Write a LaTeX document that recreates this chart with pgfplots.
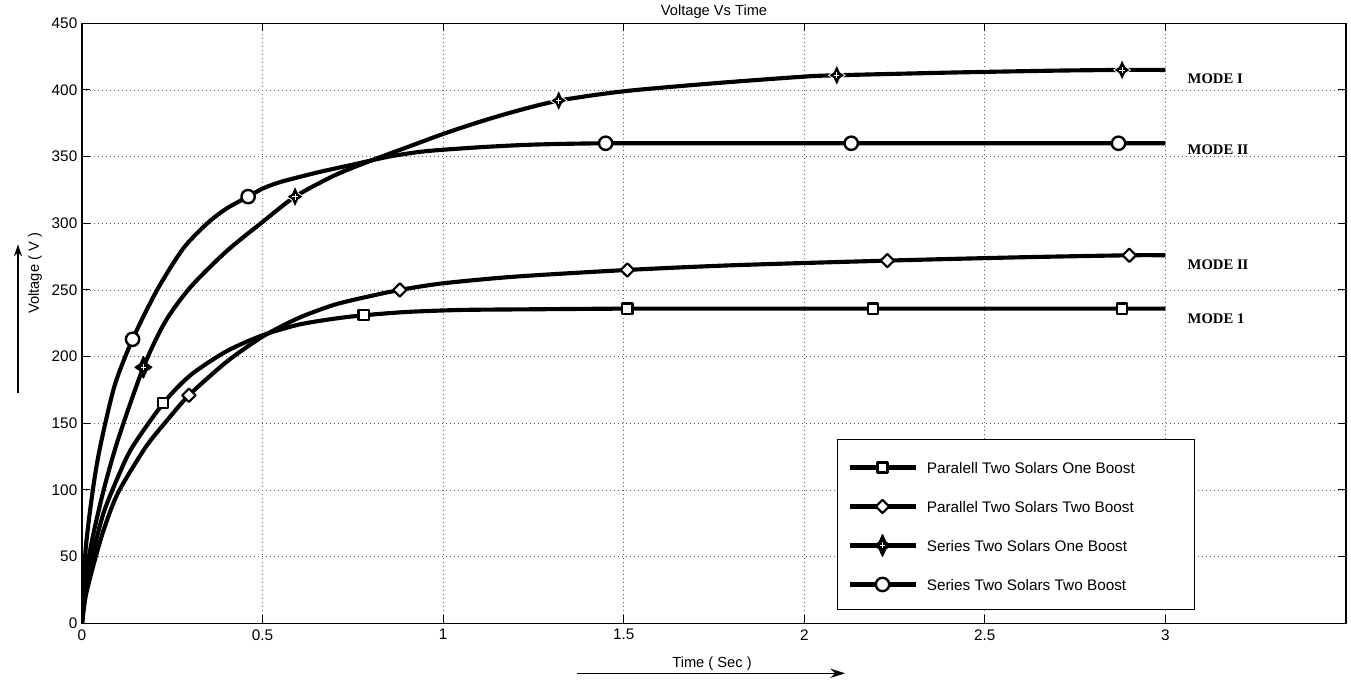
\documentclass[border=0pt]{standalone}
\usepackage{fontspec}
\setmainfont{Liberation Sans}
\newfontfamily\timesfont{Liberation Serif}
\usepackage{pgfplots}
\pgfplotsset{compat=1.18}
\usetikzlibrary{arrows.meta}

% four-pointed star with a white cross, like the MATLAB marker
\pgfdeclareplotmark{sstar}{%
  \pgfpathmoveto{\pgfqpoint{0pt}{1.6\pgfplotmarksize}}%
  \pgfpathlineto{\pgfqpoint{0.5\pgfplotmarksize}{0.5\pgfplotmarksize}}%
  \pgfpathlineto{\pgfqpoint{1.25\pgfplotmarksize}{0pt}}%
  \pgfpathlineto{\pgfqpoint{0.5\pgfplotmarksize}{-0.5\pgfplotmarksize}}%
  \pgfpathlineto{\pgfqpoint{0pt}{-1.6\pgfplotmarksize}}%
  \pgfpathlineto{\pgfqpoint{-0.5\pgfplotmarksize}{-0.5\pgfplotmarksize}}%
  \pgfpathlineto{\pgfqpoint{-1.25\pgfplotmarksize}{0pt}}%
  \pgfpathlineto{\pgfqpoint{-0.5\pgfplotmarksize}{0.5\pgfplotmarksize}}%
  \pgfpathclose
  \pgfsetfillcolor{black}%
  \pgfusepathqfillstroke
  \pgfsetstrokecolor{white}%
  \pgfsetlinewidth{0.6pt}%
  \pgfpathmoveto{\pgfqpoint{0pt}{0.45\pgfplotmarksize}}%
  \pgfpathlineto{\pgfqpoint{0pt}{-0.45\pgfplotmarksize}}%
  \pgfpathmoveto{\pgfqpoint{-0.4\pgfplotmarksize}{0pt}}%
  \pgfpathlineto{\pgfqpoint{0.4\pgfplotmarksize}{0pt}}%
  \pgfusepathqstroke
}
% square-ish diamond
\pgfdeclareplotmark{wdiam}{%
  \pgfpathmoveto{\pgfqpoint{0pt}{\pgfplotmarksize}}%
  \pgfpathlineto{\pgfqpoint{\pgfplotmarksize}{0pt}}%
  \pgfpathlineto{\pgfqpoint{0pt}{-\pgfplotmarksize}}%
  \pgfpathlineto{\pgfqpoint{-\pgfplotmarksize}{0pt}}%
  \pgfpathclose
  \pgfusepathqfillstroke
}

\begin{document}
\begin{tikzpicture}
\begin{axis}[
  scale only axis,
  width=948pt, height=450pt,
  xmin=0, xmax=3.5, ymin=0, ymax=450,
  xtick={0,0.5,1,1.5,2,2.5,3},
  ytick={0,50,100,150,200,250,300,350,400,450},
  xtick pos=both, ytick pos=both,
  xticklabel pos=lower, yticklabel pos=left,
  tick align=inside,
  major tick length=6pt,
  tick style={black, line width=0.75pt},
  axis line style={black, line width=0.9pt},
  grid=major,
  major grid style={black!65, line width=0.6pt, dash pattern=on 0.75pt off 2.25pt},
  tick label style={font=\fontsize{11.5}{13}\selectfont},
  /pgf/number format/assume math mode=true,
  xticklabel style={yshift=-1pt},
  legend cell align=left,
  legend style={
    draw=none, fill=none,
    at={(0.607,0.274)}, anchor=north west,
    inner sep=0pt,
    font=\fontsize{11.5}{13}\selectfont,
    nodes={inner sep=2pt, text height=8.5pt, text depth=0pt},
    row sep=16.75pt, column sep=6.5pt,
  },
  legend image code/.code={%
    \path[draw=none, fill=none] (0pt,-4pt) rectangle (49.5pt,4pt);
    \draw[overlay, #1, mark indices={2}]
      plot coordinates {(0pt,0pt) (24.75pt,0pt) (49.5pt,0pt)};
  },
  every axis plot/.append style={black, line width=3.1pt, line join=round},
]

% legend box
\draw[fill=white, line width=0.75pt] (axis cs:2.092,138) rectangle (axis cs:3.080,10.5);

% Paralell Two Solars One Boost
\addplot[smooth, tension=0.45, mark=square*, mark size=3.8pt,
  mark options={fill=white, line width=1.7pt, solid},
  mark indices={7,13,17,19,21}] coordinates {
  (0,0) (0.01,25) (0.03,52) (0.06,83) (0.1,110) (0.139,132) (0.225,165)
  (0.3,186) (0.4,204) (0.5,216) (0.6,224) (0.7,228.5) (0.78,231)
  (0.9,233.5) (1.05,235) (1.25,235.5) (1.51,236) (1.85,236) (2.19,236)
  (2.55,236) (2.88,236) (3.0,236)
};
\addlegendentry{Paralell Two Solars One Boost}

% Parallel Two Solars Two Boost
\addplot[smooth, tension=0.45, mark=wdiam, mark size=5pt,
  mark options={fill=white, line width=1.6pt, solid},
  mark indices={8,14,17,19,21}] coordinates {
  (0,0) (0.01,20) (0.03,42) (0.06,70) (0.1,98) (0.176,132) (0.235,152)
  (0.296,171) (0.4,196) (0.5,215) (0.6,229) (0.7,239) (0.8,245.5)
  (0.88,250) (1.0,255) (1.2,260) (1.51,265) (1.8,268.5) (2.23,272)
  (2.6,274.5) (2.9,276) (3.0,276)
};
\addlegendentry{Parallel Two Solars Two Boost}

% Series Two Solars One Boost
\addplot[smooth, tension=0.45, mark=sstar, mark size=5pt,
  mark options={line width=1pt, solid},
  mark indices={6,11,18,22,25}] coordinates {
  (0,0) (0.01,35) (0.03,65) (0.06,100) (0.1,138) (0.17,192) (0.23,226)
  (0.3,252) (0.4,279) (0.5,301) (0.59,320) (0.7,336) (0.8,347) (0.9,357)
  (1.0,367) (1.1,376) (1.2,384) (1.32,392) (1.5,399) (1.75,405) (2.0,410)
  (2.09,411) (2.4,413) (2.7,414.5) (2.88,415) (3.0,415)
};
\addlegendentry{Series Two Solars One Boost}

% Series Two Solars Two Boost
\addplot[smooth, tension=0.45, mark=*, mark size=5pt,
  mark options={fill=white, line width=1.8pt, solid},
  mark indices={6,11,20,22,24}] coordinates {
  (0,0) (0.01,55) (0.03,100) (0.05,132) (0.09,178) (0.14,213) (0.208,250)
  (0.28,281) (0.347,300) (0.4,311) (0.46,320) (0.5,326) (0.55,331)
  (0.65,338) (0.75,344) (0.85,350) (0.95,354) (1.1,357) (1.25,359)
  (1.45,360) (1.8,360) (2.13,360) (2.5,360) (2.87,360) (3.0,360)
};
\addlegendentry{Series Two Solars Two Boost}
\end{axis}

% annotations, in pixel units of the 1351x682 picture (origin top left)
\begin{scope}[shift={(current axis.north west)}, xshift=-61.5pt, yshift=16.5pt,
  x=0.75pt, y=-0.75pt]
  \path (0,0) rectangle (1351,682);
  \node[font=\fontsize{11}{13}\selectfont] at (714,10) {Voltage Vs Time};
  \node[rotate=90, font=\fontsize{11}{13}\selectfont] at (35,272) {Voltage ( V )};
  \draw[-{Stealth[length=9pt,width=6pt]}, line width=0.8pt] (18,392) -- (18,243);
  \node[font=\fontsize{11}{13}\selectfont] at (712,662) {Time ( Sec )};
  \draw[-{Stealth[length=11pt,width=7pt]}, line width=0.8pt] (577,672) -- (845,672);
  \begin{scope}[every node/.style={anchor=west, font=\timesfont\bfseries\fontsize{11}{12}\selectfont}]
    \node at (1183,77) {MODE I};
    \node at (1183,148) {MODE II};
    \node at (1183,263) {MODE II};
    \node at (1183,317) {MODE 1};
  \end{scope}
\end{scope}
\end{tikzpicture}
\end{document}
